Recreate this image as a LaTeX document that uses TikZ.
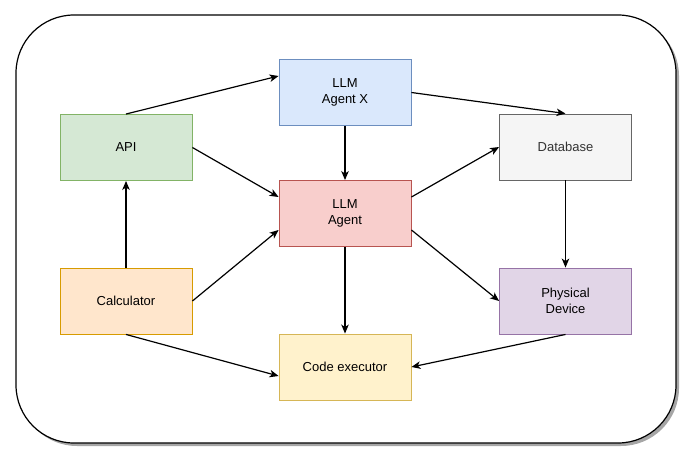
\documentclass[tikz,border=0pt]{standalone}
\usepackage{fontspec}
\setmainfont{Liberation Sans}
\usetikzlibrary{arrows.meta, positioning}
\definecolor{blueFill}{HTML}{DAE8FC}\definecolor{blueLine}{HTML}{6C8EBF}
\definecolor{greenFill}{HTML}{D5E8D4}\definecolor{greenLine}{HTML}{82B366}
\definecolor{grayFill}{HTML}{F5F5F5}\definecolor{grayLine}{HTML}{666666}
\definecolor{redFill}{HTML}{F8CECC}\definecolor{redLine}{HTML}{B85450}
\definecolor{orangeFill}{HTML}{FFE6CC}\definecolor{orangeLine}{HTML}{D79B00}
\definecolor{purpleFill}{HTML}{E1D5E7}\definecolor{purpleLine}{HTML}{9673A6}
\definecolor{yellowFill}{HTML}{FFF2CC}\definecolor{yellowLine}{HTML}{D6B656}
\tikzset{
	>={Stealth[length=9pt,width=7.5pt,inset=2.5pt]}, % arrow heads like the classic ones
	every box/.style={draw, line width=0.9pt, minimum width=132pt, minimum height=66pt, align=center, font=\fontsize{13}{16}\selectfont}, % sets the properties for each box
	link/.style={->, line width=1.2pt}, % directed connectors
}

\begin{document}
\begin{tikzpicture}[x=1pt, y=-1pt]
	\useasboundingbox (0,0) rectangle (700,470);
	% frame with its shadow
	\fill[black!35, rounded corners=58pt] (19,18) rectangle (679,446);
	\draw[fill=white, line width=1.2pt, rounded corners=58pt] (16,15) rectangle (676,443);
			\node[every box, fill=blueFill, draw=blueLine] at (345, 92.5) (agentx) {LLM\\Agent X};
			\node[every box, fill=greenFill, draw=greenLine] at (126, 147.5) (api) {API};
			\node[every box, fill=grayFill, draw=grayLine, text=black!80] at (565.5, 147) (db) {Database};
			\node[every box, fill=redFill, draw=redLine] at (345, 213.5) (agent) {LLM\\Agent};
			\node[every box, fill=orangeFill, draw=orangeLine] at (126, 301) (calc) {Calculator};
			\node[every box, fill=purpleFill, draw=purpleLine] at (565.5, 301) (phys) {Physical\\Device};
			\node[every box, fill=yellowFill, draw=yellowLine] at (345, 367) (code) {Code executor};
	\draw 	(api.north) edge[link] ([yshift=16.5pt]agentx.west)
			(api.east) edge[link] ([yshift=16.5pt]agent.west)
			(calc.north) edge[link] (api.south)
			(calc.east) edge[link] ([yshift=-16.5pt]agent.west)
			(calc.south) edge[link] ([yshift=-9pt]code.west)
			(agentx.south) edge[link] (agent.north)
			(agentx.east) edge[link] (db.north)
			([yshift=16.5pt]agent.east) edge[link] (db.west)
			([yshift=-16.5pt]agent.east) edge[link] (phys.west)
			(agent.south) edge[link] (code.north)
			(db.south) edge[link] (phys.north)
			(phys.south) edge[link] (code.east);
	\end{tikzpicture}
\end{document}
